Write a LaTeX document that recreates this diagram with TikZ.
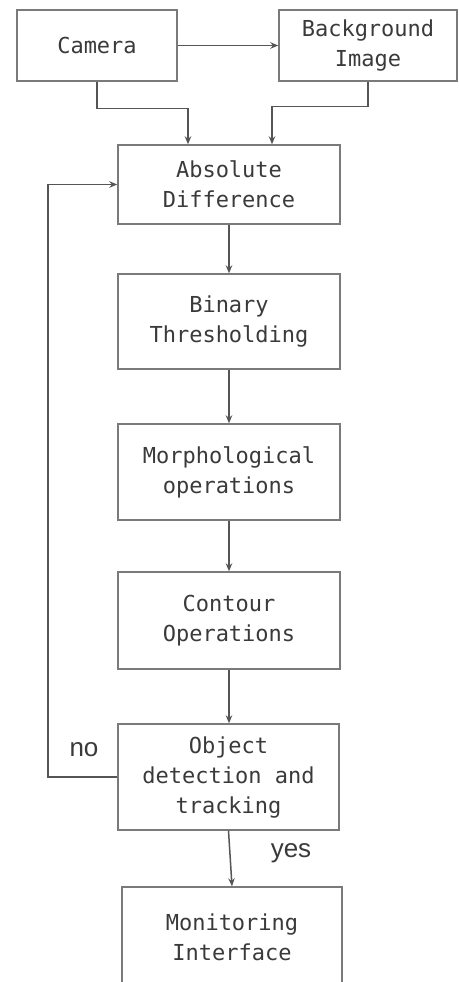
\documentclass[tikz,border=0pt]{standalone}
\usepackage{fontspec}
\setmonofont{DejaVu Sans Mono}
\newfontfamily\lblfont{Liberation Sans}
\usetikzlibrary{arrows.meta,calc}
\definecolor{linegray}{HTML}{555555}
\definecolor{boxgray}{HTML}{7A7A7A}
\definecolor{txtgray}{HTML}{3A3A3A}
\tikzset{
  stepbox/.style={draw=boxgray, line width=1.4pt, fill=white, align=center, inner sep=0pt,
    font=\ttfamily\fontsize{22}{30}\selectfont, text=txtgray},
  arr/.style={draw=linegray, line width=1.5pt, -{Stealth[length=8pt,width=6.5pt]}},
  lbl/.style={font=\lblfont\fontsize{26}{30}\selectfont, text=txtgray}
}
\begin{document}
\begin{tikzpicture}[x=1pt,y=-1pt]
\useasboundingbox (0,0) rectangle (458,982);
\clip (0,0) rectangle (458,982);
\fill[white] (0,0) rectangle (458,982);

\node[stepbox, minimum width=160pt, minimum height=71pt] (cam) at (97,45.5) {Camera};
\node[stepbox, minimum width=178pt, minimum height=71pt] (bg) at (368,45.5) {Background\\Image};
\node[stepbox, minimum width=222pt, minimum height=79pt] (abs) at (229,184.5) {Absolute\\Difference};
\node[stepbox, minimum width=222pt, minimum height=95pt] (bin) at (229,321.5) {Binary\\Thresholding};
\node[stepbox, minimum width=222pt, minimum height=96pt] (mor) at (229,472) {Morphological\\operations};
\node[stepbox, minimum width=222pt, minimum height=97pt] (con) at (229,620.5) {Contour\\Operations};
\node[stepbox, minimum width=221pt, minimum height=106pt] (obj) at (228.5,777) {Object\\detection and\\tracking};
\node[stepbox, minimum width=220pt, minimum height=101pt] (mon) at (232,937.5) {Monitoring\\Interface};

\coordinate (fb) at (48,0);

\draw[arr] (cam.east) -- (bg.west);
\draw[arr] (cam.south) -- ++(0,27) -| ([xshift=-41pt]abs.north);
\draw[arr] (bg.south) -- ++(0,25) -| ([xshift=43pt]abs.north);
\draw[arr] (abs.south) -- (abs.south |- bin.north);
\draw[arr] (bin.south) -- (bin.south |- mor.north);
\draw[arr] (mor.south) -- (mor.south |- con.north);
\draw[arr] (con.south) -- (con.south |- obj.north);
\draw[arr] (obj.west) -- (obj.west -| fb) |- (abs.west);
\draw[arr] (obj.south) -- (mon.north);

\node[lbl] (no) at (84,750) {no};
\node[lbl] (yes) at (291,853) {yes};
\end{tikzpicture}
\end{document}
